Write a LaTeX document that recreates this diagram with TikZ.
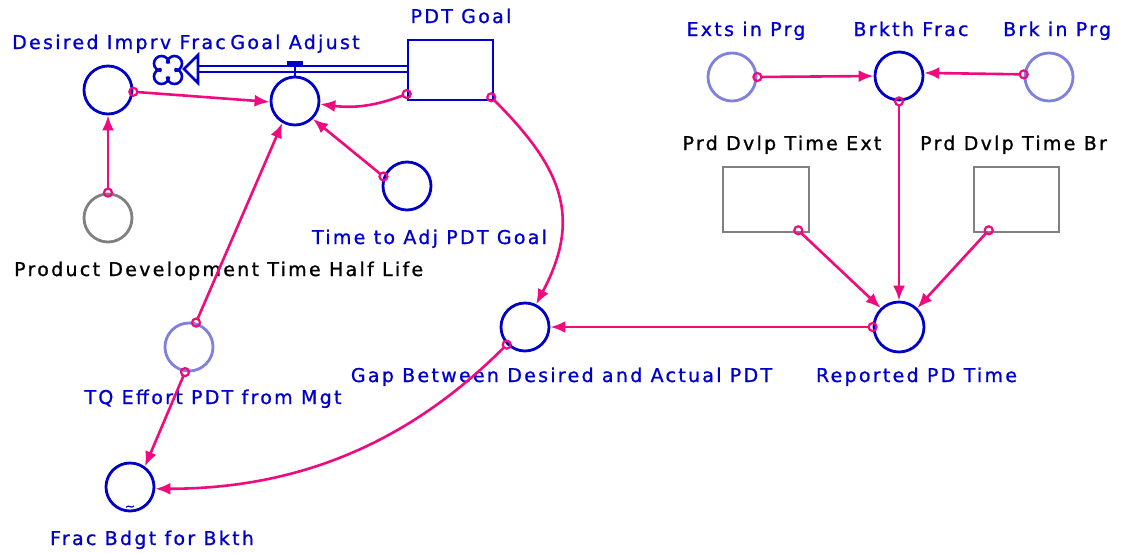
\documentclass[tikz,border=0pt]{standalone}
\usepackage{fontspec}
\setmainfont{DejaVu Sans}[LetterSpace=12,FakeBold=1]
\usetikzlibrary{arrows.meta}
\definecolor{lk}{RGB}{240,10,125}
\definecolor{vb}{RGB}{0,0,200}
\definecolor{lb}{RGB}{128,128,224}
\definecolor{gr}{RGB}{128,128,128}
\definecolor{tb}{RGB}{0,0,205}
\begin{document}
\begin{tikzpicture}[x=1pt,y=-1pt,
 aux/.style={circle,draw=vb,line width=2.8pt,minimum size=48pt,inner sep=0pt},
 shadowv/.style={aux,draw=lb},
 constv/.style={aux,draw=gr},
 lvl/.style={rectangle,draw=vb,line width=2.6pt,minimum width=85pt,minimum height=60pt,inner sep=0pt},
 glvl/.style={lvl,draw=gr,minimum width=86pt,minimum height=65pt},
 lbl/.style={text=tb,font=\fontsize{19}{21}\selectfont,inner sep=0pt,anchor=base},
 blbl/.style={lbl,text=black},
 link/.style={draw=lk,line width=2.6pt,-{Latex[length=15pt,width=12pt]},shorten <=4pt},
 orig/.style={draw=lk,line width=2.2pt},
 pipe/.style={draw=vb,line width=2.6pt}]
\useasboundingbox (0,0) rectangle (1122,552);
\fill[white] (0,0) rectangle (1122,552);

% variables
\node[aux] (dif) at (108,90) {};
\node[aux] (ga) at (295,101) {};
\node[lvl] (pdtg) at (450.5,70) {};
\node[constv] (pdhl) at (108,218) {};
\node[aux] (tta) at (407,186) {};
\node[shadowv] (tq) at (189,347) {};
\node[aux] (fbb) at (130,487) {};
\node[aux] (gap) at (525,327) {};
\node[aux,minimum size=50pt] (rpt) at (899,327) {};
\node[aux] (bf) at (899,76) {};
\node[shadowv] (eip) at (732,77) {};
\node[shadowv] (bip) at (1049,77) {};
\node[glvl] (pde) at (766,199.5) {};
\node[glvl,minimum width=85pt] (pdb) at (1016.5,199.5) {};
\node[text=vb,font=\fontsize{12}{12}\selectfont,inner sep=0pt] (fbbt) at (130,508) {\textasciitilde};

% labels
\node[lbl,anchor=base west] (ldif) at (12,49) {Desired Imprv Frac};
\node[lbl] (lga) at (295,49) {Goal Adjust};
\node[lbl] (lpdtg) at (461,23) {PDT Goal};
\node[lbl] (leip) at (746,36) {Exts in Prg};
\node[lbl] (lbf) at (911,36) {Brkth Frac};
\node[lbl,anchor=base west] (lbip) at (1003,36) {Brk in Prg};
\node[blbl] (lpde) at (782,150) {Prd Dvlp Time Ext};
\node[blbl,anchor=base west] (lpdb) at (920,150) {Prd Dvlp Time Br};
\node[blbl,anchor=base west] (lpdhl) at (14,276) {Product Development Time Half Life};
\node[lbl] (ltta) at (429.5,244) {Time to Adj PDT Goal};
\node[lbl] (ltq) at (213,404) {TQ Effort PDT from Mgt};
\node[lbl] (lfbb) at (152,545) {Frac Bdgt for Bkth};
\node[lbl] (lgap) at (561.5,382) {Gap Between Desired and Actual PDT};
\node[lbl] (lrpt) at (916.5,382) {Reported PD Time};

% flow: PDT Goal -> cloud
\coordinate (pend) at (198,69);
\draw[pipe] ([yshift=4pt]pdtg.west) -- ++(-210,0);
\draw[pipe] ([yshift=-2pt]pdtg.west) -- ++(-210,0);
\draw[pipe,fill=white] (198,55) -- (184,69) -- (198,83) -- cycle;
\coordinate (cloud) at (168,70);
\draw[pipe] (cloud) ++(-6.5,-6.5) ++(90:7.5) arc[start angle=90,end angle=360,radius=7.5];
\draw[pipe] (cloud) ++(6.5,-6.5) ++(180:7.5) arc[start angle=180,end angle=450,radius=7.5];
\draw[pipe] (cloud) ++(6.5,6.5) ++(270:7.5) arc[start angle=270,end angle=540,radius=7.5];
\draw[pipe] (cloud) ++(-6.5,6.5) ++(0:7.5) arc[start angle=0,end angle=270,radius=7.5];
\fill[vb] (287,61) rectangle (303,66);
\draw[draw=vb,line width=2pt] (295,66) -- (ga.north);

% link origins
\coordinate (o1) at (dif.-4);
\coordinate (o2) at ([yshift=-24pt]pdtg.west);
\coordinate (o3) at (pdhl.north);
\coordinate (o4) at (tta.158);
\coordinate (o5) at (tq.74);
\coordinate (o6) at (tq.261);
\coordinate (o7) at ([xshift=-3pt,yshift=4pt]pdtg.south east);
\coordinate (o8) at (gap.224);
\coordinate (o9) at (rpt.west);
\coordinate (o10) at (eip.east);
\coordinate (o11) at (bip.174);
\coordinate (o12) at (bf.south);
\coordinate (o13) at ([xshift=-12pt,yshift=3pt]pde.south east);
\coordinate (o14) at ([xshift=16pt,yshift=3pt]pdb.south west);

% links
\draw[link] (o1) -- (ga.182);
\draw[link] (o2) to[bend left=14] (ga.-7);
\draw[link] (o3) -- (dif.south);
\draw[link] (o4) -- (ga.-45);
\draw[link] (o5) -- (ga.240);
\draw[link] (o6) -- (fbb.54);
\draw[link] (o7) to[out=-45,in=62,looseness=1.2] (gap.64);
\draw[link] (o8) to[out=225,in=0,looseness=0.95] (fbb.-4);
\draw[link] (o9) -- (gap.east);
\draw[link] (o10) -- (bf.west);
\draw[link] (o11) -- (bf.7);
\draw[link] (o12) -- (rpt.north);
\draw[link] (o13) -- (rpt.134);
\draw[link] (o14) -- (rpt.46);
\foreach \o in {o1,o2,o3,o4,o5,o6,o7,o8,o9,o10,o11,o12,o13,o14}
  \draw[orig] (\o) circle[radius=4];
\end{tikzpicture}
\end{document}
